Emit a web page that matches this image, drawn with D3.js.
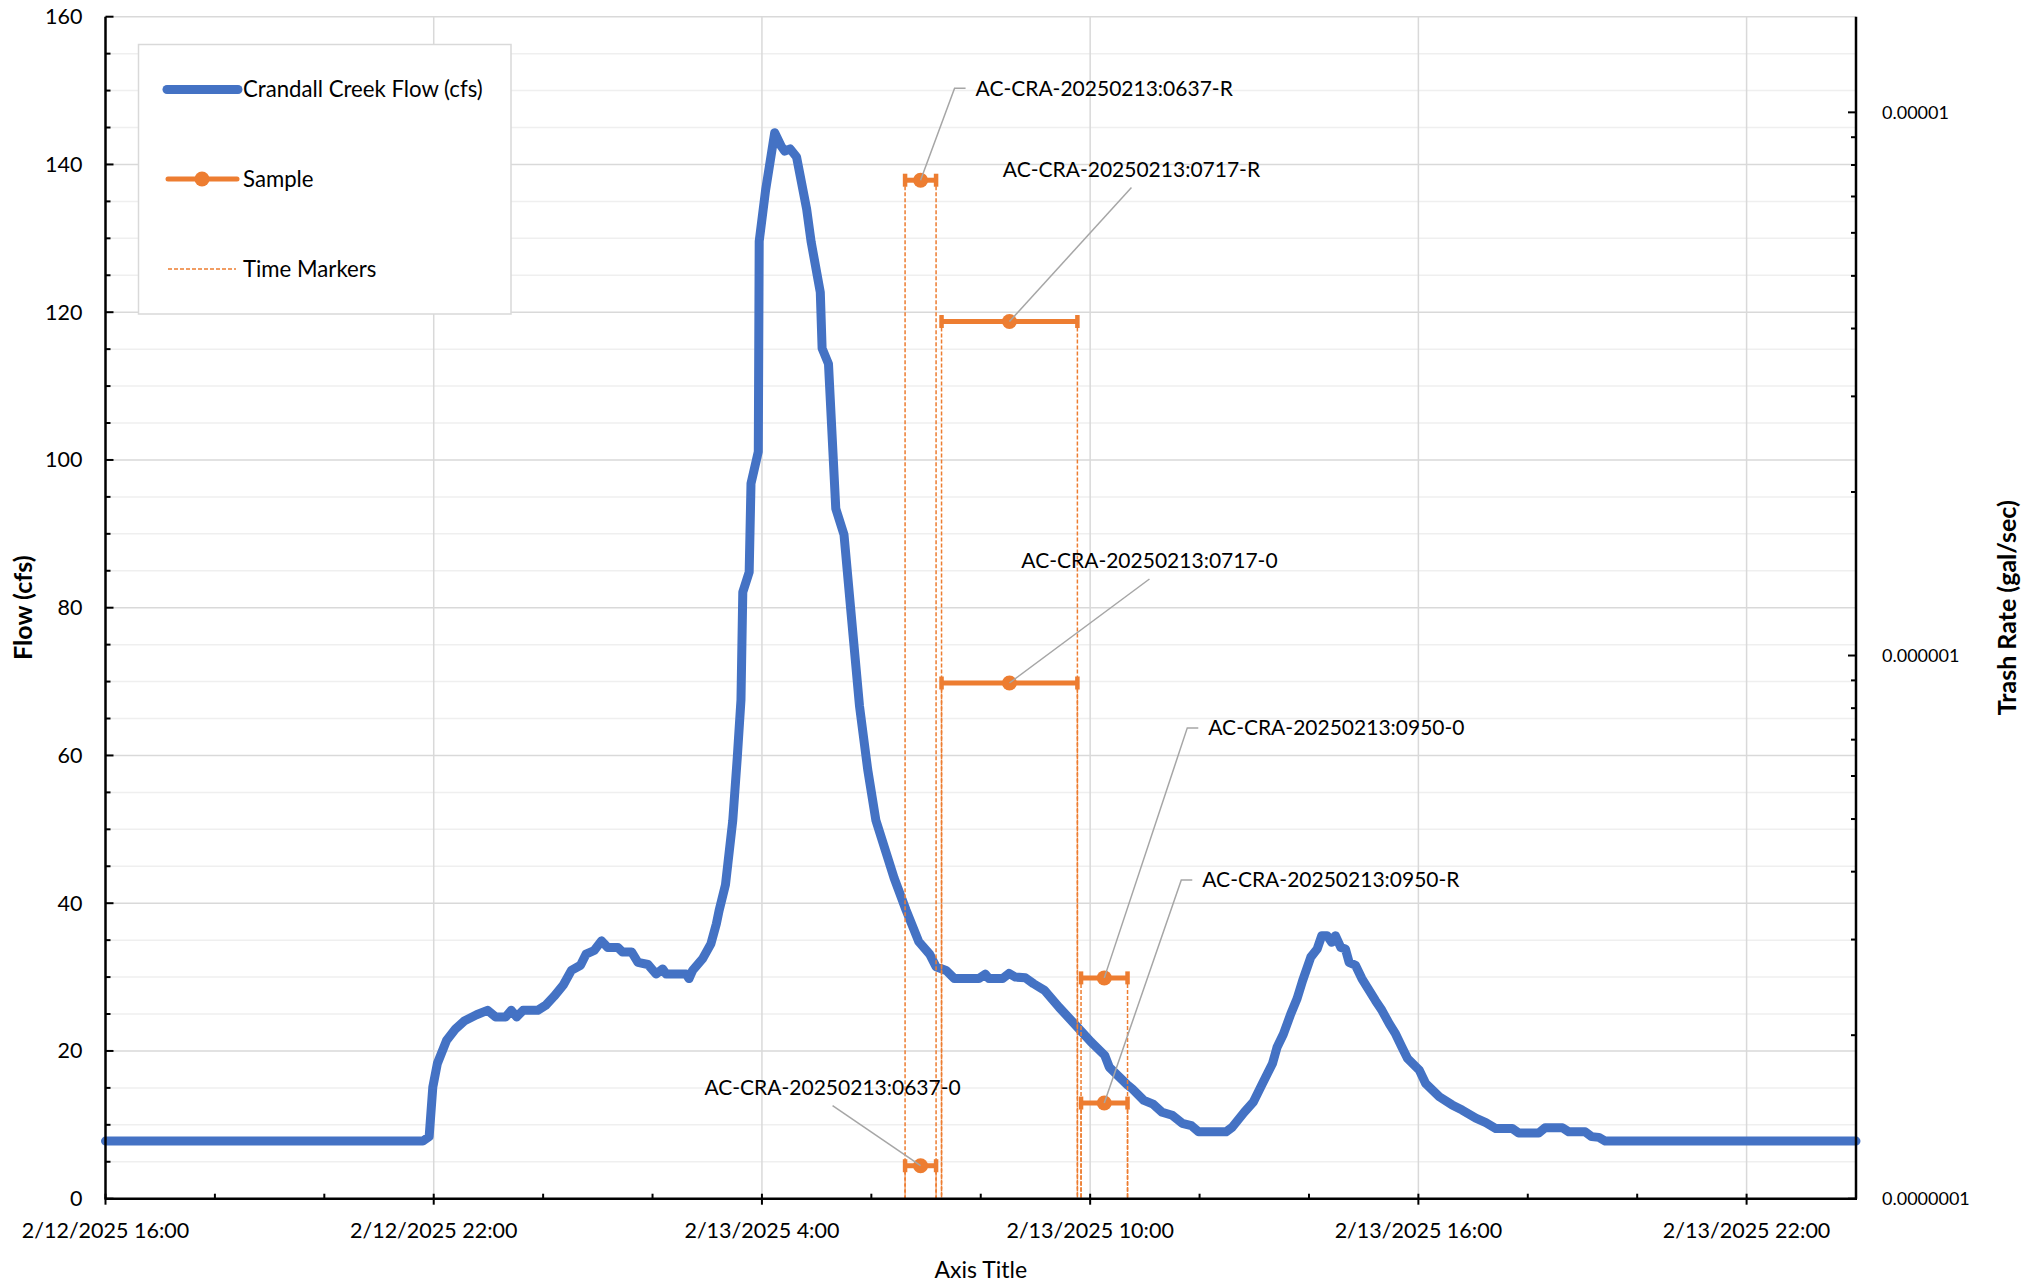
<!DOCTYPE html>
<html>
<head>
<meta charset="utf-8">
<script src="https://cdn.jsdelivr.net/npm/d3@7"></script>
<style>
  body { margin: 0; background: #fff; }
  svg { display: block; }
  text { font-family: "Lato", "Liberation Sans", sans-serif; fill: #000; }
</style>
</head>
<body>
<svg id="chart" width="2024" height="1282"></svg>
<script>
// --- data ---
const flowTimes = [
  "2025-02-12 16:00", "2025-02-12 21:48", "2025-02-12 21:55", "2025-02-12 21:59", "2025-02-12 22:04",
  "2025-02-12 22:14", "2025-02-12 22:24", "2025-02-12 22:34", "2025-02-12 22:47", "2025-02-12 22:59",
  "2025-02-12 23:08", "2025-02-12 23:19", "2025-02-12 23:25", "2025-02-12 23:31", "2025-02-12 23:38",
  "2025-02-12 23:54", "2025-02-13 00:03", "2025-02-13 00:12", "2025-02-13 00:22", "2025-02-13 00:31",
  "2025-02-13 00:41", "2025-02-13 00:47", "2025-02-13 00:56", "2025-02-13 01:04", "2025-02-13 01:11",
  "2025-02-13 01:22", "2025-02-13 01:27", "2025-02-13 01:37", "2025-02-13 01:44", "2025-02-13 01:55",
  "2025-02-13 02:04", "2025-02-13 02:11", "2025-02-13 02:15", "2025-02-13 02:37", "2025-02-13 02:40",
  "2025-02-13 02:44", "2025-02-13 02:55", "2025-02-13 03:04", "2025-02-13 03:10", "2025-02-13 03:13",
  "2025-02-13 03:20", "2025-02-13 03:28", "2025-02-13 03:33", "2025-02-13 03:37", "2025-02-13 03:39",
  "2025-02-13 03:46", "2025-02-13 03:48", "2025-02-13 03:56", "2025-02-13 03:57", "2025-02-13 04:04",
  "2025-02-13 04:14", "2025-02-13 04:21", "2025-02-13 04:25", "2025-02-13 04:31", "2025-02-13 04:38",
  "2025-02-13 04:49", "2025-02-13 04:54", "2025-02-13 05:04", "2025-02-13 05:06", "2025-02-13 05:13",
  "2025-02-13 05:21", "2025-02-13 05:30", "2025-02-13 05:40", "2025-02-13 05:47", "2025-02-13 05:56",
  "2025-02-13 06:05", "2025-02-13 06:16", "2025-02-13 06:25", "2025-02-13 06:38", "2025-02-13 06:52",
  "2025-02-13 07:04", "2025-02-13 07:11", "2025-02-13 07:22", "2025-02-13 07:31", "2025-02-13 07:58",
  "2025-02-13 08:05", "2025-02-13 08:09", "2025-02-13 08:24", "2025-02-13 08:31", "2025-02-13 08:38",
  "2025-02-13 08:49", "2025-02-13 08:58", "2025-02-13 09:10", "2025-02-13 09:26", "2025-02-13 09:44",
  "2025-02-13 10:01", "2025-02-13 10:16", "2025-02-13 10:21", "2025-02-13 10:41", "2025-02-13 10:46",
  "2025-02-13 10:59", "2025-02-13 11:09", "2025-02-13 11:19", "2025-02-13 11:30", "2025-02-13 11:41",
  "2025-02-13 11:51", "2025-02-13 11:59", "2025-02-13 12:29", "2025-02-13 12:36", "2025-02-13 12:49",
  "2025-02-13 12:59", "2025-02-13 13:09", "2025-02-13 13:20", "2025-02-13 13:25", "2025-02-13 13:32",
  "2025-02-13 13:40", "2025-02-13 13:47", "2025-02-13 13:53", "2025-02-13 14:02", "2025-02-13 14:09",
  "2025-02-13 14:14", "2025-02-13 14:20", "2025-02-13 14:25", "2025-02-13 14:29", "2025-02-13 14:35",
  "2025-02-13 14:40", "2025-02-13 14:44", "2025-02-13 14:51", "2025-02-13 14:58", "2025-02-13 15:05",
  "2025-02-13 15:13", "2025-02-13 15:20", "2025-02-13 15:28", "2025-02-13 15:35", "2025-02-13 15:42",
  "2025-02-13 15:48", "2025-02-13 16:01", "2025-02-13 16:08", "2025-02-13 16:23", "2025-02-13 16:37",
  "2025-02-13 16:48", "2025-02-13 17:03", "2025-02-13 17:14", "2025-02-13 17:25", "2025-02-13 17:43",
  "2025-02-13 17:50", "2025-02-13 18:12", "2025-02-13 18:19", "2025-02-13 18:38", "2025-02-13 18:45",
  "2025-02-13 19:03", "2025-02-13 19:10", "2025-02-13 19:18", "2025-02-13 19:25", "2025-02-14 00:00"
];
const flowValues = [
  7.8, 7.8, 8.4, 15.1, 18.3,
  21.4, 23.0, 24.1, 24.9, 25.5,
  24.6, 24.6, 25.5, 24.6, 25.5,
  25.5, 26.2, 27.4, 28.9, 30.9,
  31.6, 33.1, 33.6, 34.9, 34.0,
  34.0, 33.4, 33.4, 32.0, 31.7,
  30.4, 31.1, 30.4, 30.4, 29.8,
  30.9, 32.5, 34.5, 37.2, 39.0,
  42.5, 51.2, 59.8, 67.5, 82.1,
  84.8, 96.8, 101.1, 129.6, 136.5,
  144.3, 142.5, 141.8, 142.1, 141.0,
  134.0, 129.5, 122.7, 115.1, 113.0,
  93.4, 89.9, 76.2, 66.7, 58.1,
  51.2, 46.9, 43.4, 39.1, 34.8,
  33.1, 31.4, 30.9, 29.8, 29.8,
  30.4, 29.8, 29.8, 30.5, 30.0,
  29.9, 29.1, 28.2, 25.9, 23.5,
  21.2, 19.4, 17.8, 15.4, 14.9,
  13.3, 12.8, 11.7, 11.3, 10.2,
  9.9, 9.05, 9.05, 9.7, 11.7,
  13.1, 15.6, 18.3, 20.5, 22.3,
  25.0, 27.1, 29.5, 32.7, 33.8,
  35.6, 35.6, 34.7, 35.6, 34.0,
  33.8, 32.0, 31.6, 29.8, 28.4,
  26.8, 25.5, 23.7, 22.3, 20.5,
  19.0, 17.4, 15.6, 13.8, 12.7,
  12.0, 10.9, 10.3, 9.5, 9.5,
  8.9, 8.9, 9.6, 9.6, 9.05,
  9.05, 8.4, 8.3, 7.8, 7.8
];

const sampleNames = [
  "AC-CRA-20250213:0637-R", "AC-CRA-20250213:0717-R", "AC-CRA-20250213:0717-0",
  "AC-CRA-20250213:0950-0", "AC-CRA-20250213:0950-R", "AC-CRA-20250213:0637-0"
];
const sampleStart = ["2025-02-13 06:37", "2025-02-13 07:17", "2025-02-13 07:17", "2025-02-13 09:50", "2025-02-13 09:50", "2025-02-13 06:37"];
const sampleEnd   = ["2025-02-13 07:11", "2025-02-13 09:46", "2025-02-13 09:46", "2025-02-13 10:41", "2025-02-13 10:41", "2025-02-13 07:11"];
const sampleRate  = [7.5e-6, 4.12e-6, 8.9e-7, 2.55e-7, 1.5e-7, 1.15e-7];

const xDomain = ["2025-02-12 16:00", "2025-02-14 00:00"];
const xMajorTicks = ["2025-02-12 16:00", "2025-02-12 22:00", "2025-02-13 04:00", "2025-02-13 10:00", "2025-02-13 16:00", "2025-02-13 22:00"];
const flowTicks = [0, 20, 40, 60, 80, 100, 120, 140, 160];
const rateDomain = [1e-7, 1.5e-5];
const rateTicks = [1e-7, 1e-6, 1e-5];
const rateTickLabels = ["0.0000001", "0.000001", "0.00001"];

// --- layout (label offsets from marker, px) ---
const labelLayout = [
  { dx: 55, dy: -92, mode: "elbow" },
  { dx: 122, dy: -152, mode: "below" },
  { dx: 140, dy: -122, mode: "below" },
  { dx: 104, dy: -250, mode: "elbow" },
  { dx: 98, dy: -223, mode: "elbow" },
  { dx: -88, dy: -78, mode: "below" }
];

const BLUE = "#4472C4", ORANGE = "#ED7D31", GRID = "#d9d9d9", MINOR = "#efefef";
const plotL = 105.5, plotR = 1856, plotT = 16.7, plotB = 1198.7;

const parse = d3.timeParse("%Y-%m-%d %H:%M");
const svg = d3.select("#chart");

const x = d3.scaleTime().domain(xDomain.map(parse)).range([plotL, plotR]);
const yFlow = d3.scaleLinear().domain([0, 160]).range([plotB, plotT]);
const yRate = d3.scaleLog().domain(rateDomain).range([plotB, plotT]);

// --- gridlines ---
const minorFlow = d3.range(5, 161, 5).filter(v => v % 20 !== 0);
svg.append("g").selectAll("line").data(minorFlow).join("line")
  .attr("x1", plotL).attr("x2", plotR)
  .attr("y1", d => yFlow(d)).attr("y2", d => yFlow(d))
  .attr("stroke", MINOR).attr("stroke-width", 1.5);
svg.append("g").selectAll("line").data(flowTicks.filter(v => v > 0)).join("line")
  .attr("x1", plotL).attr("x2", plotR)
  .attr("y1", d => yFlow(d)).attr("y2", d => yFlow(d))
  .attr("stroke", GRID).attr("stroke-width", 1.5);
svg.append("g").selectAll("line").data(xMajorTicks.slice(1).map(parse)).join("line")
  .attr("x1", d => x(d)).attr("x2", d => x(d))
  .attr("y1", plotT).attr("y2", plotB)
  .attr("stroke", GRID).attr("stroke-width", 1.5);

// --- flow line ---
const flow = flowTimes.map((t, i) => ({ t: parse(t), v: flowValues[i] }));
svg.append("path")
  .datum(flow)
  .attr("fill", "none")
  .attr("stroke", BLUE)
  .attr("stroke-width", 9)
  .attr("stroke-linejoin", "round")
  .attr("stroke-linecap", "round")
  .attr("d", d3.line().x(d => x(d.t)).y(d => yFlow(d.v)));

// --- samples ---
const samples = sampleNames.map((n, i) => {
  const s = parse(sampleStart[i]), e = parse(sampleEnd[i]);
  return { name: n, s, e, mid: new Date((+s + +e) / 2), r: sampleRate[i], lay: labelLayout[i] };
});

// time markers: dashed verticals from each sample down to the axis
const tm = svg.append("g");
samples.forEach(d => {
  [d.s, d.e].forEach(t => {
    tm.append("line")
      .attr("x1", x(t)).attr("x2", x(t))
      .attr("y1", yRate(d.r)).attr("y2", plotB)
      .attr("stroke", ORANGE).attr("stroke-width", 1.5)
      .attr("stroke-dasharray", "4,2");
  });
});

// error bars + markers
const sg = svg.append("g");
samples.forEach(d => {
  const yy = yRate(d.r);
  sg.append("line").attr("x1", x(d.s)).attr("x2", x(d.e)).attr("y1", yy).attr("y2", yy)
    .attr("stroke", ORANGE).attr("stroke-width", 5);
  [d.s, d.e].forEach(t => {
    sg.append("line").attr("x1", x(t)).attr("x2", x(t)).attr("y1", yy - 6.5).attr("y2", yy + 6.5)
      .attr("stroke", ORANGE).attr("stroke-width", 4.5);
  });
  sg.append("circle").attr("cx", x(d.mid)).attr("cy", yy).attr("r", 7.5).attr("fill", ORANGE);
});

// data labels with leader lines
const lg = svg.append("g");
samples.forEach(d => {
  const mx = x(d.mid), my = yRate(d.r);
  const tx = mx + d.lay.dx, ty = my + d.lay.dy;
  let pts;
  if (d.lay.mode === "elbow") {
    pts = [[mx, my], [tx - 21, ty], [tx - 10, ty]];
  } else {
    pts = [[mx, my], [tx, ty + 18]];
  }
  lg.append("path").attr("d", d3.line()(pts))
    .attr("fill", "none").attr("stroke", "#a6a6a6").attr("stroke-width", 1.5);
  lg.append("text")
    .attr("x", tx).attr("y", ty)
    .attr("dy", "0.35em")
    .attr("text-anchor", d.lay.mode === "elbow" ? "start" : "middle")
    .attr("font-size", 21)
    .text(d.name);
});

// --- axes ---
const ax = svg.append("g");
ax.append("line").attr("x1", plotL).attr("x2", plotL).attr("y1", plotT).attr("y2", plotB)
  .attr("stroke", "#000").attr("stroke-width", 2.5);
ax.append("line").attr("x1", plotR).attr("x2", plotR).attr("y1", plotT).attr("y2", plotB)
  .attr("stroke", "#000").attr("stroke-width", 2.5);
ax.append("line").attr("x1", plotL - 1).attr("x2", plotR + 1).attr("y1", plotB).attr("y2", plotB)
  .attr("stroke", "#000").attr("stroke-width", 2.5);

// left ticks
ax.append("g").selectAll("line").data(d3.range(0, 161, 5)).join("line")
  .attr("x1", plotL).attr("x2", d => plotL + (d % 20 === 0 ? 8 : 5))
  .attr("y1", d => yFlow(d)).attr("y2", d => yFlow(d))
  .attr("stroke", "#000").attr("stroke-width", 2);
ax.append("g").selectAll("text").data(flowTicks).join("text")
  .attr("x", plotL - 23).attr("y", d => yFlow(d)).attr("dy", "0.35em")
  .attr("text-anchor", "end").attr("font-size", 21.5)
  .text(d => d);

// bottom ticks
const majorMs = xMajorTicks.map(t => +parse(t));
const minorX = d3.timeHour.every(2).range(parse(xDomain[0]), parse(xDomain[1]));
ax.append("g").selectAll("line").data(minorX).join("line")
  .attr("x1", d => x(d)).attr("x2", d => x(d))
  .attr("y1", plotB - 5).attr("y2", d => majorMs.includes(+d) ? plotB + 6 : plotB)
  .attr("stroke", "#000").attr("stroke-width", 2);
const fmt = d3.timeFormat("%-m/%-d/%Y %-H:%M");
ax.append("g").selectAll("text").data(xMajorTicks.map(parse)).join("text")
  .attr("x", d => x(d)).attr("y", plotB + 39)
  .attr("text-anchor", "middle").attr("font-size", 21.5)
  .text(d => fmt(d));

// right ticks (log)
const rateMinor = [];
[1e-7, 1e-6, 1e-5].forEach(b => d3.range(1, 10).forEach(k => {
  const v = b * k;
  if (v >= rateDomain[0] && v <= rateDomain[1]) rateMinor.push({ v, major: k === 1 });
}));
ax.append("g").selectAll("line").data(rateMinor).join("line")
  .attr("x1", plotR).attr("x2", d => plotR - (d.major ? 8 : 5))
  .attr("y1", d => yRate(d.v)).attr("y2", d => yRate(d.v))
  .attr("stroke", "#000").attr("stroke-width", 2);
ax.append("g").selectAll("text").data(rateTicks).join("text")
  .attr("x", plotR + 26).attr("y", d => yRate(d)).attr("dy", "0.36em")
  .attr("font-family", "'DejaVu Sans', Verdana, sans-serif")
  .attr("font-size", 18)
  .text((d, i) => rateTickLabels[i]);

// axis titles
const midY = (plotT + plotB) / 2;
svg.append("text").attr("transform", `translate(32,${midY}) rotate(-90)`)
  .attr("text-anchor", "middle").attr("font-size", 25).attr("font-weight", "bold")
  .text("Flow (cfs)");
svg.append("text").attr("transform", `translate(2016,${midY}) rotate(-90)`)
  .attr("text-anchor", "middle").attr("font-size", 25).attr("font-weight", "bold")
  .text("Trash Rate (gal/sec)");
svg.append("text").attr("x", (plotL + plotR) / 2).attr("y", 1278)
  .attr("text-anchor", "middle").attr("font-size", 23)
  .text("Axis Title");

// --- legend ---
const leg = svg.append("g");
leg.append("rect").attr("x", 138.5).attr("y", 44.5).attr("width", 372.5).attr("height", 269.5)
  .attr("fill", "#fff").attr("stroke", GRID).attr("stroke-width", 1.5);
const legendItems = ["Crandall Creek Flow (cfs)", "Sample", "Time Markers"];
const legY = [89.5, 179, 269];
leg.append("line").attr("x1", 167).attr("x2", 238).attr("y1", legY[0]).attr("y2", legY[0])
  .attr("stroke", BLUE).attr("stroke-width", 9).attr("stroke-linecap", "round");
leg.append("line").attr("x1", 168).attr("x2", 237).attr("y1", legY[1]).attr("y2", legY[1])
  .attr("stroke", ORANGE).attr("stroke-width", 5).attr("stroke-linecap", "round");
leg.append("circle").attr("cx", 202).attr("cy", legY[1]).attr("r", 7.5).attr("fill", ORANGE);
leg.append("line").attr("x1", 168).attr("x2", 236).attr("y1", legY[2]).attr("y2", legY[2])
  .attr("stroke", ORANGE).attr("stroke-width", 1.3).attr("stroke-dasharray", "4,2");
leg.selectAll("text.li").data(legendItems).join("text")
  .attr("class", "li")
  .attr("x", 243).attr("y", (d, i) => legY[i]).attr("dy", "0.35em")
  .attr("font-size", 22.2)
  .text(d => d);
</script>
</body>
</html>
